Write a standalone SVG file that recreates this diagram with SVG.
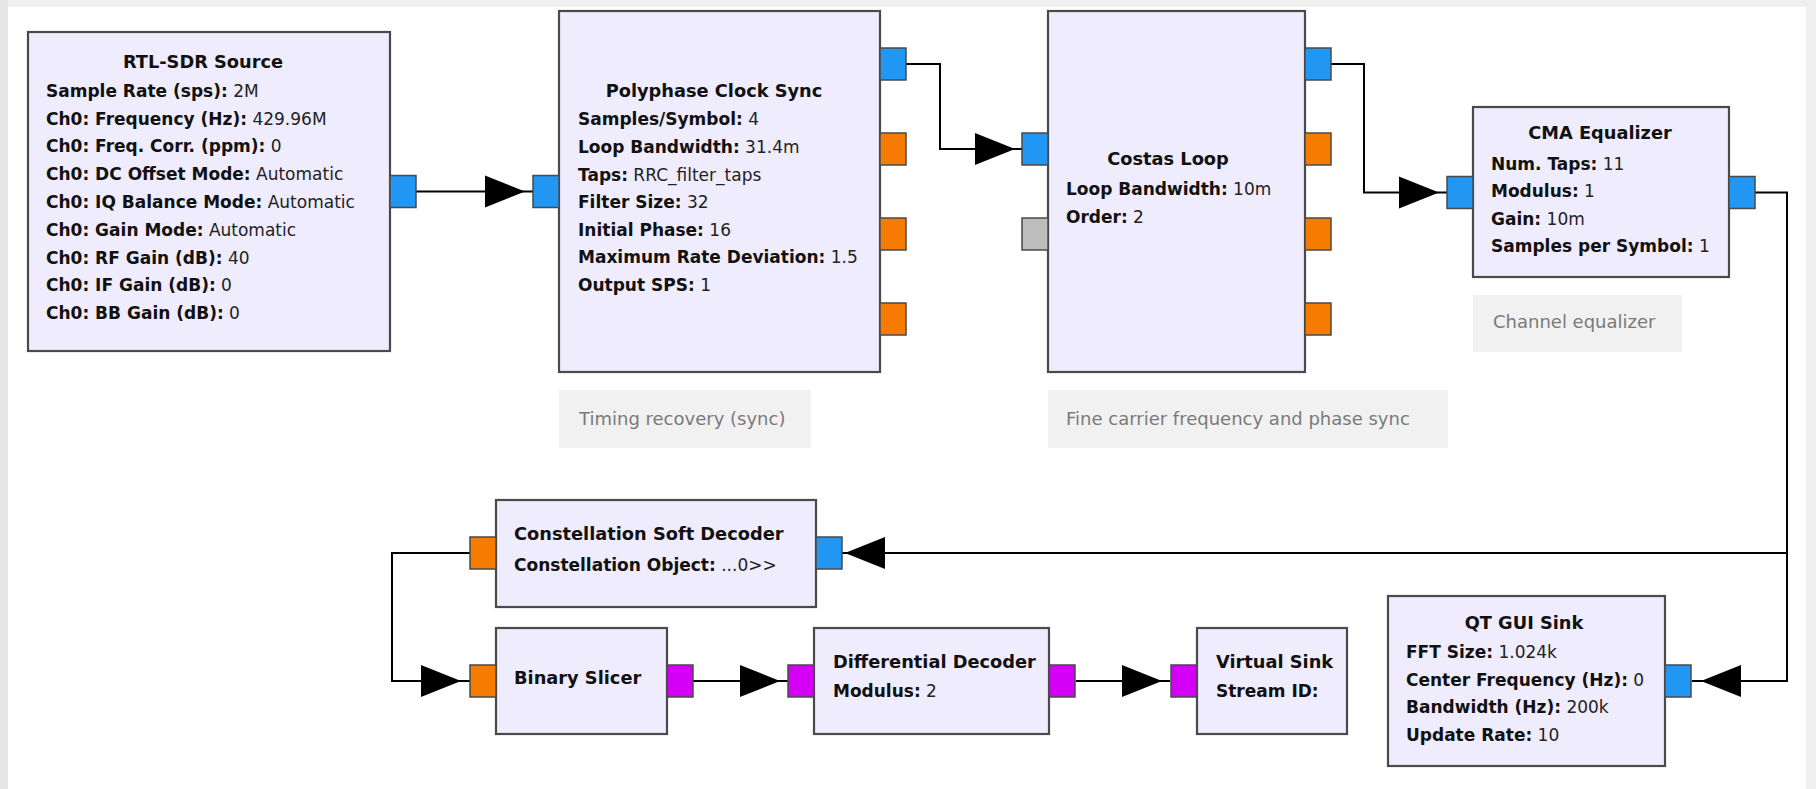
<svg xmlns="http://www.w3.org/2000/svg" xmlns:xlink="http://www.w3.org/1999/xlink" width="1816" height="789" viewBox="0 0 1816 789">
<style>
.blk{fill:#efecfd;stroke:#4a4a4a;stroke-width:2.2}
.port{stroke:#4a4a4a;stroke-width:1.5}
.pb{fill:#2196f3}
.po{fill:#f57c00}
.pm{fill:#d400f5}
.pg{fill:#bdbdbd}
.cm{fill:#f1f1f1}
.ct{font-family:"DejaVu Sans",sans-serif;font-size:18px;fill:#7a7a7a}
.ti{font-family:"DejaVu Sans",sans-serif;font-size:17.8px;font-weight:bold;fill:#111}
.p{font-family:"DejaVu Sans",sans-serif;font-size:17px;fill:#222}
.k{font-weight:bold;fill:#111}
.w{fill:none;stroke:#000;stroke-width:2}
</style>
<defs>
<polygon id="ah" points="0,0 -40,-16 -40,16" fill="#000"/>
</defs>
<rect x="0" y="0" width="1816" height="789" fill="#ffffff"/>
<rect x="0" y="0" width="1816" height="7" fill="#efefef"/>
<rect x="0" y="0" width="8" height="789" fill="#e6e6e6"/>
<rect x="1806" y="0" width="10" height="789" fill="#f0f0f0"/>

<g id="connectors">
<path class="w" d="M416,191.5 H533"/>
<use xlink:href="#ah" transform="translate(525,191.5)"/>
<path class="w" d="M906,64 H940 V149 H1022"/>
<use xlink:href="#ah" transform="translate(1015,149)"/>
<path class="w" d="M1331,64 H1364 V192.5 H1447"/>
<use xlink:href="#ah" transform="translate(1439,192.5)"/>
<path class="w" d="M1755,192.5 H1787 V681 H1692"/>
<use xlink:href="#ah" transform="translate(1701,681) rotate(180)"/>
<path class="w" d="M1787,553 H842"/>
<use xlink:href="#ah" transform="translate(845,553) rotate(180)"/>
<path class="w" d="M470,553 H392 V681 H470"/>
<use xlink:href="#ah" transform="translate(461,681)"/>
<path class="w" d="M693,681 H788"/>
<use xlink:href="#ah" transform="translate(780,681)"/>
<path class="w" d="M1076,681 H1170"/>
<use xlink:href="#ah" transform="translate(1162,681)"/>
</g>

<g id="rtl_sdr_source">
<rect class="blk" x="28" y="32" width="362" height="319"/>
<text class="ti" x="203" y="67.5" text-anchor="middle">RTL-SDR Source</text>
<text class="p" x="46" y="96.7"><tspan class="k">Sample Rate (sps):</tspan> 2M</text>
<text class="p" x="46" y="124.5"><tspan class="k">Ch0: Frequency (Hz):</tspan> 429.96M</text>
<text class="p" x="46" y="152.3"><tspan class="k">Ch0: Freq. Corr. (ppm):</tspan> 0</text>
<text class="p" x="46" y="180.1"><tspan class="k">Ch0: DC Offset Mode:</tspan> Automatic</text>
<text class="p" x="46" y="207.9"><tspan class="k">Ch0: IQ Balance Mode:</tspan> Automatic</text>
<text class="p" x="46" y="235.7"><tspan class="k">Ch0: Gain Mode:</tspan> Automatic</text>
<text class="p" x="46" y="263.5"><tspan class="k">Ch0: RF Gain (dB):</tspan> 40</text>
<text class="p" x="46" y="291.3"><tspan class="k">Ch0: IF Gain (dB):</tspan> 0</text>
<text class="p" x="46" y="319.1"><tspan class="k">Ch0: BB Gain (dB):</tspan> 0</text>
<rect class="port pb" x="390" y="175.5" width="26" height="32"/>
</g>

<g id="polyphase_clock_sync">
<rect class="blk" x="559" y="11" width="321" height="361"/>
<text class="ti" x="714" y="96.7" text-anchor="middle">Polyphase Clock Sync</text>
<text class="p" x="578" y="125.3"><tspan class="k">Samples/Symbol:</tspan> 4</text>
<text class="p" x="578" y="152.9"><tspan class="k">Loop Bandwidth:</tspan> 31.4m</text>
<text class="p" x="578" y="180.5"><tspan class="k">Taps:</tspan> RRC_filter_taps</text>
<text class="p" x="578" y="208.1"><tspan class="k">Filter Size:</tspan> 32</text>
<text class="p" x="578" y="235.7"><tspan class="k">Initial Phase:</tspan> 16</text>
<text class="p" x="578" y="263.3"><tspan class="k">Maximum Rate Deviation:</tspan> 1.5</text>
<text class="p" x="578" y="290.9"><tspan class="k">Output SPS:</tspan> 1</text>
<rect class="port pb" x="533" y="175.5" width="26" height="32"/>
<rect class="port pb" x="880" y="48" width="26" height="32"/>
<rect class="port po" x="880" y="133" width="26" height="32"/>
<rect class="port po" x="880" y="218" width="26" height="32"/>
<rect class="port po" x="880" y="303" width="26" height="32"/>
</g>

<g id="comment_timing">
<rect class="cm" x="559" y="390" width="252" height="58"/>
<text class="ct" x="579" y="425">Timing recovery (sync)</text>
</g>

<g id="costas_loop">
<rect class="blk" x="1048" y="11" width="257" height="361"/>
<text class="ti" x="1168" y="164.7" text-anchor="middle">Costas Loop</text>
<text class="p" x="1066" y="195"><tspan class="k">Loop Bandwidth:</tspan> 10m</text>
<text class="p" x="1066" y="222.5"><tspan class="k">Order:</tspan> 2</text>
<rect class="port pb" x="1022" y="133" width="26" height="32"/>
<rect class="port pg" x="1022" y="218" width="26" height="32"/>
<rect class="port pb" x="1305" y="48" width="26" height="32"/>
<rect class="port po" x="1305" y="133" width="26" height="32"/>
<rect class="port po" x="1305" y="218" width="26" height="32"/>
<rect class="port po" x="1305" y="303" width="26" height="32"/>
</g>

<g id="comment_costas">
<rect class="cm" x="1048" y="390" width="400" height="58"/>
<text class="ct" x="1066" y="425">Fine carrier frequency and phase sync</text>
</g>

<g id="cma_equalizer">
<rect class="blk" x="1473" y="107" width="256" height="170"/>
<text class="ti" x="1600" y="139" text-anchor="middle">CMA Equalizer</text>
<text class="p" x="1491" y="169.5"><tspan class="k">Num. Taps:</tspan> 11</text>
<text class="p" x="1491" y="197"><tspan class="k">Modulus:</tspan> 1</text>
<text class="p" x="1491" y="224.5"><tspan class="k">Gain:</tspan> 10m</text>
<text class="p" x="1491" y="252"><tspan class="k">Samples per Symbol:</tspan> 1</text>
<rect class="port pb" x="1447" y="176.5" width="26" height="32"/>
<rect class="port pb" x="1729" y="176.5" width="26" height="32"/>
</g>

<g id="comment_cma">
<rect class="cm" x="1473" y="295" width="209" height="57"/>
<text class="ct" x="1493" y="328">Channel equalizer</text>
</g>

<g id="constellation_soft_decoder">
<rect class="blk" x="496" y="500" width="320" height="107"/>
<text class="ti" x="514" y="540">Constellation Soft Decoder</text>
<text class="p" x="514" y="570.5"><tspan class="k">Constellation Object:</tspan> ...0&gt;&gt;</text>
<rect class="port po" x="470" y="537" width="26" height="32"/>
<rect class="port pb" x="816" y="537" width="26" height="32"/>
</g>

<g id="binary_slicer">
<rect class="blk" x="496" y="628" width="171" height="106"/>
<text class="ti" x="514" y="684">Binary Slicer</text>
<rect class="port po" x="470" y="665" width="26" height="32"/>
<rect class="port pm" x="667" y="665" width="26" height="32"/>
</g>

<g id="differential_decoder">
<rect class="blk" x="814" y="628" width="235" height="106"/>
<text class="ti" x="833" y="668">Differential Decoder</text>
<text class="p" x="833" y="697"><tspan class="k">Modulus:</tspan> 2</text>
<rect class="port pm" x="788" y="665" width="26" height="32"/>
<rect class="port pm" x="1049" y="665" width="26" height="32"/>
</g>

<g id="virtual_sink">
<rect class="blk" x="1197" y="628" width="150" height="106"/>
<text class="ti" x="1216" y="668">Virtual Sink</text>
<text class="p" x="1216" y="697"><tspan class="k">Stream ID:</tspan></text>
<rect class="port pm" x="1171" y="665" width="26" height="32"/>
</g>

<g id="qt_gui_sink">
<rect class="blk" x="1388" y="596" width="277" height="170"/>
<text class="ti" x="1524" y="629" text-anchor="middle">QT GUI Sink</text>
<text class="p" x="1406" y="658"><tspan class="k">FFT Size:</tspan> 1.024k</text>
<text class="p" x="1406" y="685.5"><tspan class="k">Center Frequency (Hz):</tspan> 0</text>
<text class="p" x="1406" y="713"><tspan class="k">Bandwidth (Hz):</tspan> 200k</text>
<text class="p" x="1406" y="740.5"><tspan class="k">Update Rate:</tspan> 10</text>
<rect class="port pb" x="1665" y="665" width="26" height="32"/>
</g>
</svg>
